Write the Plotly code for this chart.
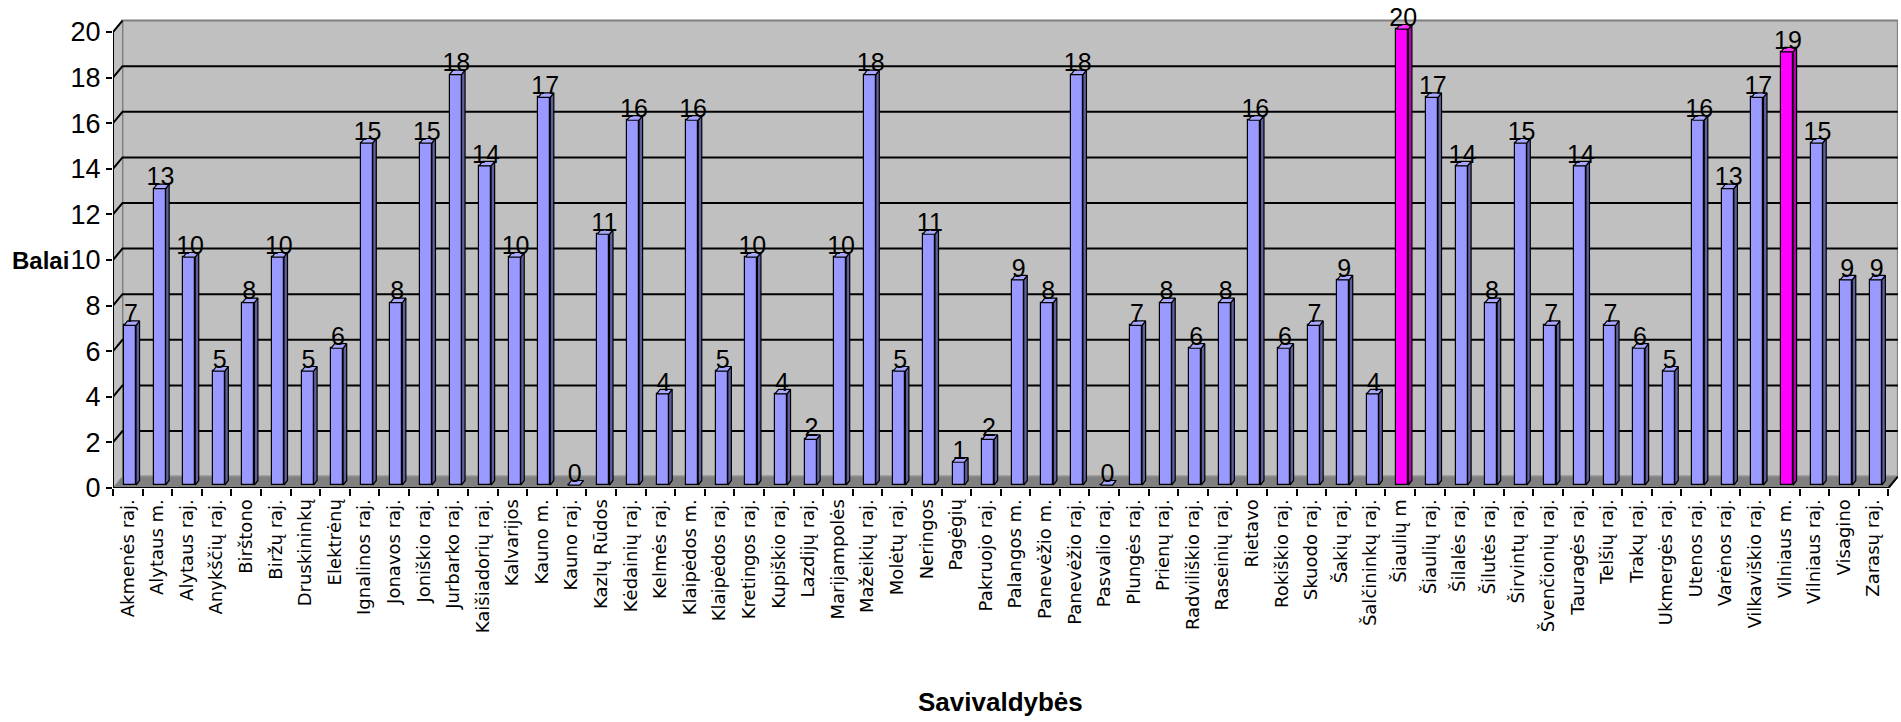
import plotly.graph_objects as go

# Municipalities and their scores (Balai)
municipalities = [
    "Akmenės raj.", "Alytaus m.", "Alytaus raj.", "Anykščių raj.", "Birštono",
    "Biržų raj.", "Druskininkų", "Elektrėnų", "Ignalinos raj.", "Jonavos raj.",
    "Joniškio raj.", "Jurbarko raj.", "Kaišiadorių raj.", "Kalvarijos", "Kauno m.",
    "Kauno raj.", "Kazlų Rūdos", "Kėdainių raj.", "Kelmės raj.", "Klaipėdos m.",
    "Klaipėdos raj.", "Kretingos raj.", "Kupiškio raj.", "Lazdijų raj.", "Marijampolės",
    "Mažeikių raj.", "Molėtų raj.", "Neringos", "Pagėgių", "Pakruojo raj.",
    "Palangos m.", "Panevėžio m.", "Panevėžio raj.", "Pasvalio raj.", "Plungės raj.",
    "Prienų raj.", "Radviliškio raj.", "Raseinių raj.", "Rietavo", "Rokiškio raj.",
    "Skuodo raj.", "Šakių raj.", "Šalčininkų raj.", "Šiaulių m", "Šiaulių raj.",
    "Šilalės raj.", "Šilutės raj.", "Širvintų raj.", "Švenčionių raj.", "Tauragės raj.",
    "Telšių raj.", "Trakų raj.", "Ukmergės raj.", "Utenos raj.", "Varėnos raj.",
    "Vilkaviškio raj.", "Vilniaus m.", "Vilniaus raj.", "Visagino", "Zarasų raj.",
]
scores = [
    7, 13, 10, 5, 8,
    10, 5, 6, 15, 8,
    15, 18, 14, 10, 17,
    0, 11, 16, 4, 16,
    5, 10, 4, 2, 10,
    18, 5, 11, 1, 2,
    9, 8, 18, 0, 7,
    8, 6, 8, 16, 6,
    7, 9, 4, 20, 17,
    14, 8, 15, 7, 14,
    7, 6, 5, 16, 13,
    17, 19, 15, 9, 9,
]
highlighted = ["Šiaulių m", "Vilniaus m."]
y_ticks = list(range(0, 21, 2))

# Pseudo-3D geometry (axis units)
WALL_DX, WALL_DY = 0.32, 0.5      # depth of the back wall
BAR_SHIFT_X, BAR_BASE = 0.075, 0.13
BAR_W = 0.405
SIDE_DX, SIDE_DY = 0.12, 0.2       # depth of each bar

FRONT = {"normal": "#9999FF", "hi": "#FF00FF"}
SIDE = {"normal": "#5F5F9E", "hi": "#B000B0"}
TOP = {"normal": "#A8A8FF", "hi": "#FF33FF"}

n = len(municipalities)
xs = [i + BAR_SHIFT_X for i in range(n)]
groups = ["hi" if m in highlighted else "normal" for m in municipalities]

fig = go.Figure()

# Front faces of bars
fig.add_trace(go.Bar(
    x=xs, y=scores, base=BAR_BASE, width=BAR_W,
    marker=dict(color=[FRONT[g] for g in groups], line=dict(color="black", width=1.2)),
    hovertext=municipalities, hoverinfo="text+y", showlegend=False,
))

# Side and top faces, built per colour group
for grp in ["normal", "hi"]:
    sx, sy, tx, ty = [], [], [], []
    for x, v, g in zip(xs, scores, groups):
        if g != grp:
            continue
        xl, xr = x - BAR_W / 2, x + BAR_W / 2
        top = BAR_BASE + v
        sx += [xr, xr + SIDE_DX, xr + SIDE_DX, xr, xr, None]
        sy += [BAR_BASE, BAR_BASE + SIDE_DY, top + SIDE_DY, top, BAR_BASE, None]
        tx += [xl, xr, xr + SIDE_DX, xl + SIDE_DX, xl, None]
        ty += [top, top, top + SIDE_DY, top + SIDE_DY, top, None]
    fig.add_trace(go.Scatter(x=sx, y=sy, mode="lines", fill="toself",
                             fillcolor=SIDE[grp], line=dict(color="black", width=1.2),
                             hoverinfo="skip", showlegend=False))
    fig.add_trace(go.Scatter(x=tx, y=ty, mode="lines", fill="toself",
                             fillcolor=TOP[grp], line=dict(color="black", width=1.2),
                             hoverinfo="skip", showlegend=False))

num_font = "Liberation Sans, Arial, sans-serif"
label_font = "DejaVu Sans, Verdana, sans-serif"

# Value labels
fig.add_trace(go.Scatter(
    x=[x + 0.03 for x in xs], y=[v + 0.55 for v in scores],
    text=[str(v) for v in scores], mode="text", textposition="middle center",
    textfont=dict(family=num_font, size=25, color="black"),
    cliponaxis=False, hoverinfo="skip", showlegend=False,
))

x0, x1 = -0.5, n - 0.5
shapes = []
# back wall
shapes.append(dict(type="rect", xref="x", yref="y", layer="below",
                   x0=x0 + WALL_DX, x1=x1 + WALL_DX, y0=WALL_DY, y1=20 + WALL_DY,
                   fillcolor="#C0C0C0", line=dict(color="#808080", width=2)))
# left side wall
shapes.append(dict(type="path", xref="x", yref="y", layer="below",
                   path=f"M {x0},0 L {x0},20 L {x0 + WALL_DX},{20 + WALL_DY} L {x0 + WALL_DX},{WALL_DY} Z",
                   fillcolor="#C0C0C0", line=dict(color="#808080", width=1)))
# floor
shapes.append(dict(type="path", xref="x", yref="y", layer="below",
                   path=f"M {x0},0 L {x1},0 L {x1 + WALL_DX},{WALL_DY} L {x0 + WALL_DX},{WALL_DY} Z",
                   fillcolor="#808080", line=dict(color="#909090", width=1)))
# gridlines on the walls
for t in y_ticks[1:-1]:
    shapes.append(dict(type="path", xref="x", yref="y", layer="below",
                       path=f"M {x0},{t} L {x0 + WALL_DX},{t + WALL_DY} L {x1 + WALL_DX},{t + WALL_DY}",
                       line=dict(color="black", width=2)))
# axis lines
shapes.append(dict(type="path", xref="x", yref="y", layer="above",
                   path=f"M {x0 + WALL_DX},{20 + WALL_DY} L {x0},20 L {x0},0 L {x1},0 L {x1 + WALL_DX},{WALL_DY}",
                   line=dict(color="black", width=2)))

PX_PER_UNIT = 22.8
fig.update_layout(
    width=1901, height=722,
    margin=dict(l=113, r=3, t=0, b=234),
    paper_bgcolor="white", plot_bgcolor="white",
    shapes=shapes,
    bargap=0,
    xaxis=dict(
        range=[-0.5, -0.5 + 1785 / 29.59],
        tickmode="array", tickvals=list(range(n)), ticktext=municipalities,
        tickangle=-90, ticks="outside", ticklen=3, tickcolor="rgba(0,0,0,0)",
        tickfont=dict(family=label_font, size=18, color="black"),
        minor=dict(tickmode="linear", tick0=-0.5, dtick=1, ticks="outside",
                   ticklen=7, tickwidth=2, tickcolor="black"),
        showgrid=False, zeroline=False, showline=False, fixedrange=True,
    ),
    yaxis=dict(
        range=[0, 488 / PX_PER_UNIT],
        tickmode="array", tickvals=y_ticks,
        ticks="outside", ticklen=6, tickwidth=2, tickcolor="black",
        tickfont=dict(family=num_font, size=27, color="black"),
        showgrid=False, zeroline=False, showline=False, fixedrange=True,
    ),
    annotations=[
        dict(text="<b>Balai</b>", xref="paper", yref="y", x=(40 - 113) / 1785, y=10,
             xanchor="center", yanchor="middle", showarrow=False,
             font=dict(family=num_font, size=24, color="black")),
        dict(text="<b>Savivaldybės</b>", xref="paper", yref="paper",
             x=(1000 - 113) / 1785, y=(488 - 702) / 488,
             xanchor="center", yanchor="middle", showarrow=False,
             font=dict(family=num_font, size=26, color="black")),
    ],
)

fig.write_html("out.html")
